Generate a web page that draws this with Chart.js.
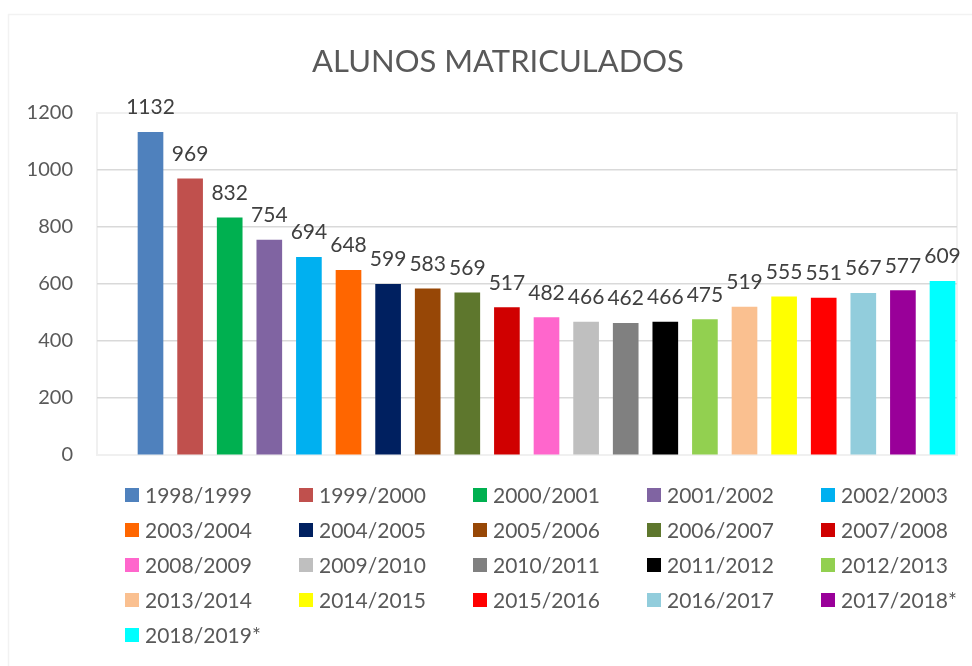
<!DOCTYPE html>
<html>
<head>
<meta charset="utf-8">
<script src="https://cdn.jsdelivr.net/npm/chart.js@4"></script>
<style>
  html, body { margin: 0; padding: 0; background: #fff; }
  #wrap { position: relative; width: 972px; height: 666px; overflow: hidden; }
  #title {
    position: absolute; left: 0; top: 42px; width: 996px; height: 37px;
    line-height: 37px; text-align: center;
    font-family: Lato, sans-serif; font-size: 31px; color: #595959;
  }
  #legend {
    position: absolute; left: 125px; top: 477px;
    display: grid; grid-template-columns: repeat(5, 174px); grid-auto-rows: 35px;
    font-family: Lato, sans-serif; font-size: 21px; color: #595959;
  }
  .item { display: flex; align-items: center; white-space: nowrap; }
  .box { width: 14px; height: 14px; margin-right: 6px; flex: none; }
</style>
</head>
<body>
<div id="wrap">
  <canvas id="chart" width="972" height="666"></canvas>
  <div id="title">ALUNOS MATRICULADOS</div>
  <div id="legend"></div>
</div>
<script>
// anos letivos
const years = ['1998/1999', '1999/2000', '2000/2001', '2001/2002', '2002/2003',
  '2003/2004', '2004/2005', '2005/2006', '2006/2007', '2007/2008',
  '2008/2009', '2009/2010', '2010/2011', '2011/2012', '2012/2013',
  '2013/2014', '2014/2015', '2015/2016', '2016/2017', '2017/2018*', '2018/2019*'];

const students = [1132, 969, 832, 754, 694, 648, 599, 583, 569, 517,
  482, 466, 462, 466, 475, 519, 555, 551, 567, 577, 609];

const colors = ['#4F81BD', '#C0504D', '#00B050', '#8064A2', '#00B0F0',
  '#FF6600', '#002060', '#974706', '#5E772D', '#D00000',
  '#FF66CC', '#BFBFBF', '#808080', '#000000', '#92D050',
  '#FAC090', '#FFFF00', '#FF0000', '#92CDDC', '#990099', '#00FFFF'];

const yTicks = [0, 200, 400, 600, 800, 1000, 1200];

const textColor = '#595959';

// bordas do gráfico e da área de plotagem
const frame = {
  id: 'frame',
  beforeDraw(chart) {
    const { ctx, chartArea: a } = chart;
    ctx.save();
    ctx.fillStyle = '#fff';
    ctx.fillRect(0, 0, chart.width, chart.height);
    ctx.strokeStyle = '#f2f2f2';
    ctx.lineWidth = 1.5;
    ctx.strokeRect(8.5, 14.5, 1000, 700);
    ctx.strokeStyle = '#f0f0f0';
    ctx.lineWidth = 2;
    ctx.strokeRect(a.left, a.top, a.right - a.left, a.bottom - a.top);
    ctx.restore();
  }
};

// rótulos de dados acima das barras
const barLabels = {
  id: 'barLabels',
  afterDatasetsDraw(chart) {
    const { ctx } = chart;
    const meta = chart.getDatasetMeta(0);
    ctx.save();
    ctx.font = '21px Lato, sans-serif';
    ctx.fillStyle = '#404040';
    ctx.textAlign = 'center';
    ctx.textBaseline = 'alphabetic';
    meta.data.forEach((bar, i) => {
      ctx.fillText(String(students[i]), bar.x, bar.y - 18);
    });
    ctx.restore();
  }
};

const ctx = document.getElementById('chart').getContext('2d');
const chart = new Chart(ctx, {
  type: 'bar',
  data: {
    datasets: [{
      data: students.map((v, i) => ({ x: i, y: v })),
      backgroundColor: colors,
      barThickness: 25
    }]
  },
  options: {
    responsive: false,
    animation: false,
    layout: { padding: { top: 113, right: 15, bottom: 211, left: 0 } },
    plugins: {
      legend: { display: false },
      tooltip: { enabled: false },
      title: { display: false }
    },
    scales: {
      x: {
        type: 'linear',
        offset: false,
        min: -1.351,
        max: 20.366,
        display: false
      },
      y: {
        min: 0,
        max: 1200,
        afterFit(axis) { axis.width = 97; },
        afterBuildTicks(axis) { axis.ticks = yTicks.map(v => ({ value: v })); },
        border: { display: false },
        grid: {
          drawTicks: false,
          lineWidth: 1.5,
          color: c => (c.tick.value === 0 || c.tick.value === 1200) ? 'rgba(0,0,0,0)' : '#d9d9d9'
        },
        ticks: {
          padding: 24,
          color: textColor,
          font: { family: 'Lato, sans-serif', size: 20 },
          callback: v => String(v)
        }
      }
    }
  },
  plugins: [frame, barLabels]
});

// legenda em grade, como no Excel
const legend = document.getElementById('legend');
years.forEach((y, i) => {
  const item = document.createElement('div');
  item.className = 'item';
  const box = document.createElement('span');
  box.className = 'box';
  box.style.background = colors[i];
  const label = document.createElement('span');
  label.textContent = y;
  item.appendChild(box);
  item.appendChild(label);
  legend.appendChild(item);
});
</script>
</body>
</html>
